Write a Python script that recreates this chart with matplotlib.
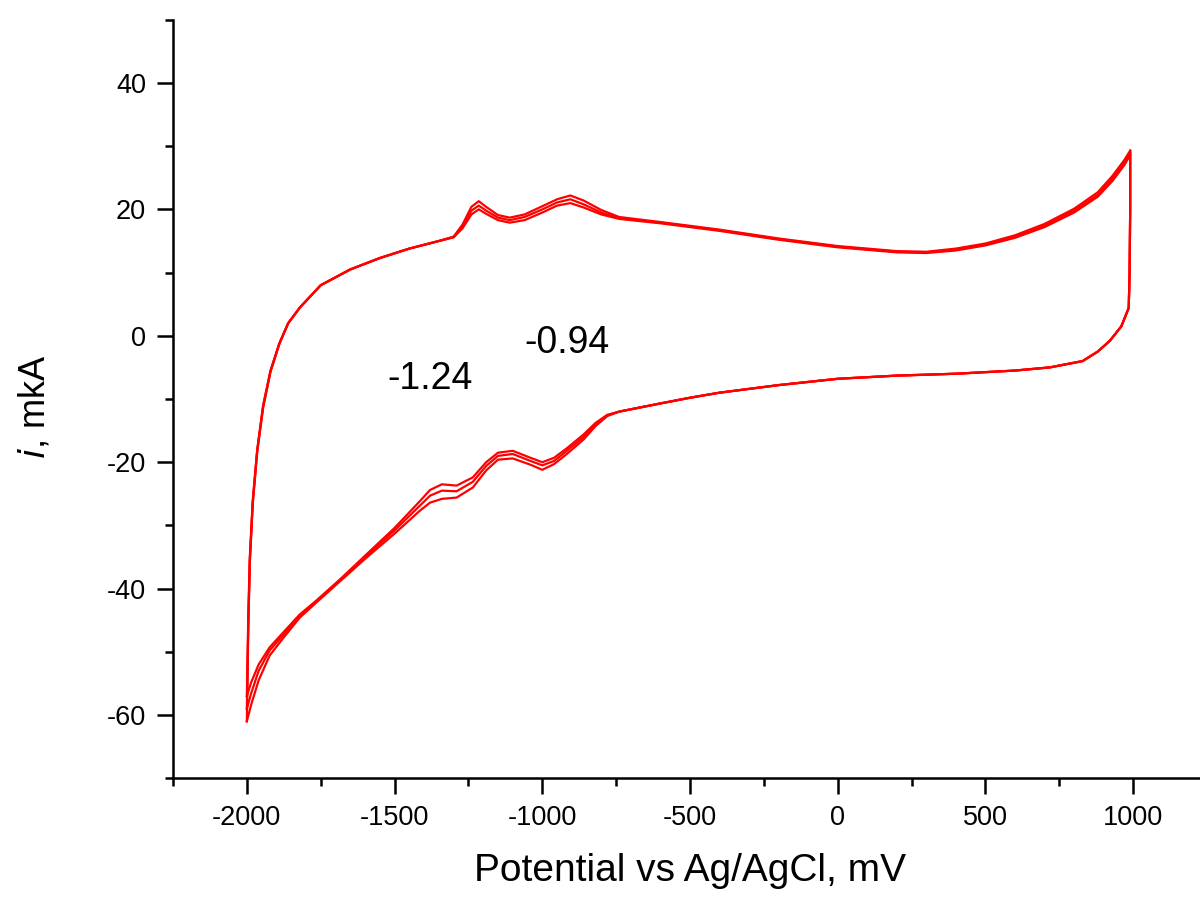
import matplotlib
matplotlib.use("Agg")
import matplotlib.pyplot as plt
from matplotlib.ticker import MultipleLocator

plt.rcParams['font.family'] = ['Liberation Sans', 'DejaVu Sans']
plt.rcParams['axes.unicode_minus'] = False

# ---- data ----
# anodic (forward) scan, -2000 -> 990 mV
E_fwd = [-2000, -1995, -1990, -1980, -1965, -1945, -1920, -1890, -1860, -1820,
         -1750, -1650, -1550, -1450, -1350, -1300, -1270, -1240, -1215, -1190,
         -1150, -1110, -1060, -1000, -950, -905, -860, -800, -740, -600,
         -400, -200, 0, 200, 300, 400, 500, 600, 700, 800,
         880, 930, 970, 990]
i_fwd_1 = [-57.0, -44, -35, -26, -18, -11, -5.5, -1.2, 2.0, 4.5,
           8.0, 10.5, 12.3, 13.8, 15.0, 15.6, 17.0, 19.2, 20.0, 19.3,
           18.3, 17.9, 18.3, 19.5, 20.6, 21.0, 20.3, 19.2, 18.5, 17.8,
           16.6, 15.2, 14.0, 13.2, 13.1, 13.5, 14.3, 15.5, 17.2, 19.5,
           22.0, 24.5, 27.0, 28.6]
i_fwd_2 = [-59.0, -45, -35.5, -26.3, -18.2, -11.2, -5.6, -1.2, 2.0, 4.5,
           8.0, 10.5, 12.3, 13.8, 15.0, 15.6, 17.3, 19.8, 20.6, 19.8,
           18.7, 18.3, 18.8, 20.0, 21.1, 21.6, 20.8, 19.5, 18.6, 17.9,
           16.7, 15.3, 14.1, 13.3, 13.2, 13.6, 14.4, 15.7, 17.4, 19.8,
           22.3, 24.9, 27.4, 29.0]
i_fwd_3 = [-61.0, -46, -36, -26.6, -18.4, -11.4, -5.7, -1.3, 2.0, 4.5,
           8.0, 10.5, 12.3, 13.8, 15.0, 15.7, 17.6, 20.4, 21.3, 20.4,
           19.1, 18.7, 19.2, 20.5, 21.6, 22.2, 21.4, 19.9, 18.8, 18.0,
           16.8, 15.4, 14.2, 13.4, 13.3, 13.8, 14.6, 15.9, 17.7, 20.1,
           22.7, 25.3, 27.8, 29.3]

# cathodic (reverse) scan, 990 -> -2000 mV
E_rev = [990, 990, 988, 985, 960, 921, 880, 829, 718, 600,
         400, 200, 0, -200, -400, -500, -600, -740, -780, -820,
         -860, -917, -960, -1000, -1040, -1100, -1150, -1190, -1235, -1290,
         -1340, -1380, -1415, -1500, -1600, -1686, -1760, -1821, -1880, -1923,
         -1960, -1985, -2000]
i_rev_1 = [28.6, 20.0, 10.0, 4.4, 1.5, -0.8, -2.5, -4.0, -5.0, -5.5,
           -6.0, -6.3, -6.8, -7.8, -9.0, -9.8, -10.7, -12.0, -12.5, -13.8,
           -15.6, -17.8, -19.3, -20.0, -19.3, -18.2, -18.5, -20.0, -22.4, -23.7,
           -23.5, -24.4, -26.2, -30.4, -34.8, -38.6, -41.7, -44.1, -47.1, -49.3,
           -52.0, -54.8, -57.0]
i_rev_2 = [29.0, 20.0, 10.0, 4.4, 1.5, -0.8, -2.5, -4.0, -5.0, -5.5,
           -6.0, -6.3, -6.8, -7.8, -9.0, -9.8, -10.7, -12.0, -12.6, -14.0,
           -16.0, -18.2, -19.8, -20.5, -19.8, -18.7, -19.0, -20.6, -23.1, -24.6,
           -24.5, -25.3, -26.9, -30.8, -35.0, -38.7, -41.8, -44.3, -47.5, -49.8,
           -53.0, -56.5, -59.0]
i_rev_3 = [29.3, 20.0, 10.0, 4.4, 1.5, -0.8, -2.5, -4.0, -5.0, -5.5,
           -6.0, -6.3, -6.8, -7.8, -9.0, -9.8, -10.7, -12.0, -12.7, -14.3,
           -16.4, -18.7, -20.3, -21.2, -20.4, -19.4, -19.6, -21.3, -24.0, -25.6,
           -25.8, -26.4, -27.7, -31.3, -35.3, -38.9, -42.0, -44.6, -48.0, -50.6,
           -54.5, -58.3, -61.0]

annot_text = ['-1.24', '-0.94']
annot_E = [-1381, -917]
annot_i = [-6.9, -1.1]

xticks_major = [-2000, -1500, -1000, -500, 0, 500, 1000]
yticks_major = [-60, -40, -20, 0, 20, 40]

# ---- figure ----
fig = plt.figure(figsize=(12, 8.99), dpi=100)
ax = fig.add_axes([173 / 1200, 1 - 778.2 / 899, (1207 - 173) / 1200, (778.2 - 19.8) / 899])

red = '#ff0000'
for i_f, i_r in [(i_fwd_1, i_rev_1), (i_fwd_2, i_rev_2), (i_fwd_3, i_rev_3)]:
    ax.plot(E_fwd, i_f, color=red, lw=1.6, solid_joinstyle='round')
    ax.plot(E_rev, i_r, color=red, lw=1.6, solid_joinstyle='round')

for t, xe, yi in zip(annot_text, annot_E, annot_i):
    ax.text(xe, yi, t, fontsize=27, ha='center', va='center')

ax.set_xlim(-2250, 1250)
ax.set_ylim(-70, 50)
ax.set_xticks(xticks_major)
ax.set_yticks(yticks_major)
ax.xaxis.set_minor_locator(MultipleLocator(250))
ax.yaxis.set_minor_locator(MultipleLocator(10))

for s in ['top', 'right']:
    ax.spines[s].set_visible(False)
for s in ['left', 'bottom']:
    ax.spines[s].set_linewidth(1.8)

ax.tick_params(which='major', direction='out', length=11.5, width=1.8,
               labelsize=19.5, pad=8)
ax.tick_params(which='minor', direction='out', length=5.5, width=1.8)

ax.set_xlabel('Potential vs Ag/AgCl, mV', fontsize=28)
ax.xaxis.set_label_coords(0.5, -0.098)
ax.xaxis.label.set_va('top')
ax.set_ylabel(r'$\it{i}$, mkA', fontsize=26)
ax.yaxis.set_label_coords(-0.117, 0.49)

fig.savefig('out.png', dpi=100)
